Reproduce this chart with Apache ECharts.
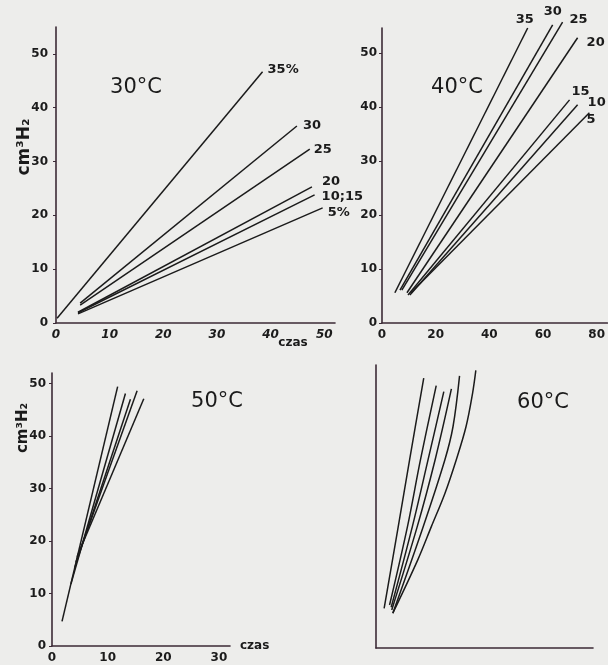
<!DOCTYPE html>
<html>
<head>
<meta charset="utf-8">
<script src="https://cdn.jsdelivr.net/npm/echarts@6/dist/echarts.min.js"></script>
<style>
  html, body { margin: 0; padding: 0; background: #ededeb; }
  #chart { width: 608px; height: 665px; }
</style>
</head>
<body>
<div id="chart"></div>
<script>
// 30°C: stężenia i odcinki prostych [start, koniec]
const names30 = ['35%', '30', '25', '20', '10;15', '5%'];
const lines30 = [
  [[0.2, 0.9], [38.5, 46.7]],
  [[4.5, 3.7], [44.9, 36.6]],
  [[4.5, 3.3], [47.3, 32.3]],
  [[4.1, 2.0], [47.7, 25.3]],
  [[4.1, 1.9], [48.2, 23.8]],
  [[4.1, 1.7], [49.7, 21.4]]
];
// 40°C
const names40 = ['35', '30', '25', '20', '15', '10', '5'];
const lines40 = [
  [[4.8, 5.6], [54.3, 54.6]],
  [[6.7, 6.1], [63.6, 55.2]],
  [[7.4, 6.1], [67.3, 55.7]],
  [[9.3, 5.6], [72.9, 52.8]],
  [[9.7, 5.2], [69.9, 41.3]],
  [[10.4, 5.2], [72.9, 40.4]],
  [[10.8, 5.6], [77.3, 38.9]]
];
// 50°C
const lines50 = [
  [[1.8, 4.7], [11.8, 49.4]],
  [[3.4, 11.8], [13.2, 48.1]],
  [[4.1, 15.0], [14.1, 47.0]],
  [[4.3, 16.0], [15.3, 48.6]],
  [[4.5, 17.0], [16.5, 47.1]]
];
// 60°C - krzywe (bez podziałki)
const curves60 = [
  [[1.5, 7.3], [4.1, 22.3], [6.2, 34.6], [8.8, 49.6]],
  [[2.5, 7.9], [5.8, 22.3], [8.2, 34.6], [11.1, 48.2]],
  [[2.8, 7.5], [6.7, 22.3], [9.6, 34.6], [12.5, 47.1]],
  [[2.9, 7.0], [7.6, 22.3], [10.9, 34.6], [13.9, 47.6]],
  [[3.1, 6.4], [8.7, 22.3], [12.7, 34.6], [14.2, 40.7], [15.4, 50.0]],
  [[3.1, 6.4], [7.7, 16.2], [10.2, 22.3], [12.7, 28.4], [14.8, 34.6], [16.6, 40.7], [17.8, 46.8], [18.4, 51.0]]
];
const titles = ['30°C', '40°C', '50°C', '60°C'];
const ticks30x = [0, 10, 20, 30, 40, 50];
const ticks40x = [0, 20, 40, 60, 80];
const ticks50x = [0, 10, 20, 30];
const ticksY = [0, 10, 20, 30, 40, 50];

// przesunięcia etykiet przy końcach prostych
const off30 = [[5, -2], [6, 0], [4, 0], [10, -5], [7, 2], [5, 5]];
const off40 = [[-12, -8], [-9, -13], [7, -2], [9, 5], [2, -8], [10, -2], [-3, 7]];

const ink = '#1b1b1b';
const axisInk = '#3b2a36';
const font = 'DejaVu Sans';

const chart = echarts.init(document.getElementById('chart'));

function xAx(grid, max, ticks, show, italic) {
  return {
    type: 'value', gridIndex: grid, min: 0, max: max,
    splitLine: { show: false },
    axisLine: { show: true, onZero: false, lineStyle: { color: axisInk, width: 1.6 } },
    axisTick: { show: false },
    axisLabel: {
      show: show, customValues: ticks, color: ink, fontFamily: font, fontSize: 12,
      fontWeight: 'bold', fontStyle: italic ? 'italic' : 'normal', margin: 6
    }
  };
}
function yAx(grid, max, show, margin) {
  return {
    type: 'value', gridIndex: grid, min: 0, max: max,
    splitLine: { show: false },
    axisLine: { show: true, onZero: false, lineStyle: { color: axisInk, width: 1.6 } },
    axisTick: { show: show, customValues: ticksY, length: 3, lineStyle: { color: axisInk } },
    axisLabel: {
      show: show, customValues: ticksY, color: ink, fontFamily: font, fontSize: 12,
      fontWeight: 'bold', margin: margin
    }
  };
}
function lineSeries(pts, idx, name, off, smooth) {
  const s = {
    type: 'line', xAxisIndex: idx, yAxisIndex: idx,
    data: pts, showSymbol: false, symbol: 'none', smooth: smooth ? 0.35 : false,
    clip: false, silent: true, animation: false,
    lineStyle: { color: ink, width: 1.5 }
  };
  if (name) {
    s.endLabel = {
      show: true, formatter: name, color: ink, fontFamily: font, fontSize: 13, fontWeight: 'bold',
      align: 'left', verticalAlign: 'middle', distance: 0, offset: off
    };
  }
  return s;
}

const series = [];
lines30.forEach((p, i) => series.push(lineSeries(p, 0, names30[i], off30[i])));
lines40.forEach((p, i) => series.push(lineSeries(p, 1, names40[i], off40[i])));
lines50.forEach(p => series.push(lineSeries(p, 2)));
curves60.forEach(p => series.push(lineSeries(p, 3, null, null, true)));

function txt(x, y, s, size, rot, weight) {
  return {
    type: 'text', x: x, y: y, rotation: rot || 0,
    style: {
      text: s, fill: ink, font: (weight || 'normal') + ' ' + size + 'px "' + font + '"',
      align: 'center', verticalAlign: 'middle'
    }
  };
}

chart.setOption({
  backgroundColor: '#ededeb',
  animation: false,
  grid: [
    { left: 56, top: 27, width: 279, height: 296 },
    { left: 382, top: 28, width: 226, height: 295 },
    { left: 52, top: 373, width: 178, height: 273 },
    { left: 376, top: 365, width: 217, height: 283 }
  ],
  xAxis: [
    xAx(0, 52, ticks30x, true, true),
    xAx(1, 84, ticks40x, true, false),
    Object.assign(xAx(2, 32, ticks50x, true, false), {
      name: 'czas', nameLocation: 'end', nameGap: 10,
      nameTextStyle: { color: ink, fontFamily: font, fontSize: 12, fontWeight: 'bold' }
    }),
    xAx(3, 40, [], false, false)
  ],
  yAxis: [
    yAx(0, 55, true, 8),
    yAx(1, 54.6, true, 5),
    yAx(2, 52, true, 6),
    yAx(3, 52, false, 5)
  ],
  series: series,
  graphic: [
    txt(136, 88, titles[0], 21),
    txt(457, 88, titles[1], 21),
    txt(217, 402, titles[2], 21),
    txt(543, 403, titles[3], 21),
    txt(293, 343, 'czas', 12, 0, 'bold'),
    txt(25, 147, 'cm³H₂', 17, Math.PI / 2, 'bold'),
    txt(23, 428, 'cm³H₂', 15, Math.PI / 2, 'bold')
  ]
});
</script>
</body>
</html>
